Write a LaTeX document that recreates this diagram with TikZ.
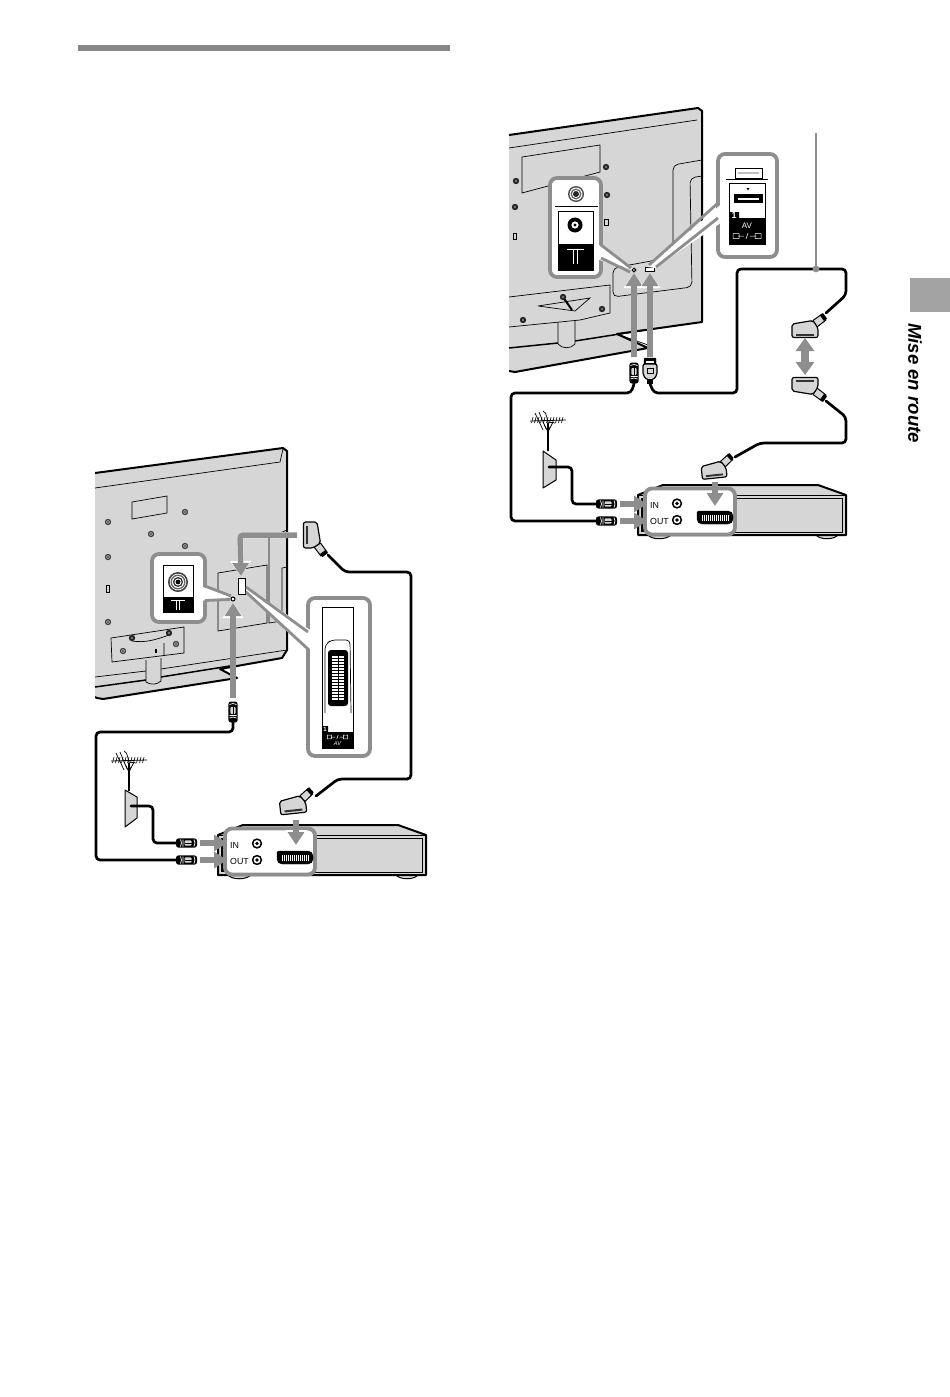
\documentclass[tikz,border=0pt]{standalone}
\usepackage{fontspec}
\setmainfont{Liberation Sans}
\usetikzlibrary{arrows.meta}
\definecolor{tvgrey}{HTML}{D6D6D6}
\definecolor{arrowgrey}{HTML}{8E8E8E}
\definecolor{tabgrey}{HTML}{A3A3A3}
\tikzset{
  x=1pt,y=-1pt,
  tvline/.style={draw=black,line width=.7pt},
  tvedge/.style={draw=black,line width=2pt,line join=round},
  cable/.style={black,line width=2.7pt,rounded corners=4pt,line cap=round},
  callout/.style={draw=arrowgrey,line width=3.8pt,fill=white,rounded corners=7pt},
  wedgeline/.style={arrowgrey,line width=2.8pt},
  garrow/.style={arrowgrey,line width=5.5pt,-{Triangle[length=13pt,width=16pt]},
    preaction={draw=white,line width=6pt,-{Triangle[length=15pt,width=20pt]}}},
  harrow/.style={arrowgrey,line width=5.5pt,-{Triangle[length=13pt,width=16pt]}},
  vlabel/.style={font=\fontsize{8.8}{9}\selectfont,inner sep=0pt,anchor=west,text=black},
}
\newcommand{\screw}[2]{\fill[black!75] (#1,#2) circle (3.2pt);\fill[tvgrey] (#1,#2) circle (1.9pt);\fill[black!70] (#1,#2) circle (1.1pt);}
\newcommand{\dscrew}[2]{\fill[black!85] (#1,#2) circle (3.2pt);\fill[black!45] (#1,#2) circle (1.1pt);}
\newcommand{\coaxplug}[3]{\begin{scope}[shift={(#1,#2)},rotate=#3]
  \fill[black,rounded corners=2.5pt] (-10.5,-4.6) rectangle (10.5,4.6);
  \fill[tvgrey,rounded corners=1pt] (-2,-2.6) rectangle (5,2.6);
  \draw[white,line width=.7pt] (-6,-3.5) -- (-5,0) -- (-6,3.5) (-3.5,-3.5) -- (-3.5,3.5) (7.5,-3.5) -- (8.5,0) -- (7.5,3.5);
  \draw[black,line width=.6pt] (-2,0) -- (5,0);
\end{scope}}
\newcommand{\scartplug}[1]{\begin{scope}[#1]
  \filldraw[fill=tvgrey,draw=black,line width=1pt,line join=round] (8,-9.5) -- (17,-16) -- (21,-10) -- (12,-3) -- cycle;
  \fill[black] (15,-14.5) -- (18,-17) -- (22,-11.5) -- (19,-9) -- cycle;
  \filldraw[fill=tvgrey,draw=black,line width=1.2pt,line join=round,rounded corners=2pt] (-13,-6) -- (8,-9.5) -- (13,-2) -- (13,7.5) -- (-13,7.5) -- cycle;
  \fill[black!80] (-9,3.5) rectangle (9,5.5);
\end{scope}}
\newcommand{\antennaicon}[2]{\begin{scope}[shift={(#1,#2)}]
  \draw[black,line width=.8pt] (-18,1) -- (18,0);
  \foreach \k in {-15,-12,...,17}{\draw[black,line width=.6pt] (\k,-3) -- (\k-1.5,3);}
  \draw[black,line width=.7pt] (-13,-7) -- (-5,10) (-9,-8) -- (-2,9) (-5,-9) .. controls (-1,-8) and (-1,0) .. (1,8) (0,2) -- (7,3) (0,12) -- (-5,2) (0,12) -- (5,2);
  \draw[black,line width=2.4pt] (0,3) -- (0,31);
\end{scope}}
\newcommand{\avicon}[3]{\begin{scope}[shift={(#1,#2)},scale=#3]
  \draw[white,line width=.5pt] (-14,-2.5) rectangle (-8,2.5) (-9,0) -- (-3,0) (-1,3) -- (1,-3) (3,0) -- (9,0) (8,-2.5) rectangle (14,2.5);
\end{scope}}
\newcommand{\vcrbox}[3]{\begin{scope}[shift={(#1,#2)}]
  \filldraw[fill=tvgrey,draw=black,line width=1pt] (10,40) .. controls (14,45) and (28,45) .. (33,40) -- cycle;
  \filldraw[fill=tvgrey,draw=black,line width=1pt] (178,40) .. controls (182,45) and (196,45) .. (200,40) -- cycle;
  \filldraw[fill=tvgrey,tvedge] (0,0) -- (25,-10) -- (180,-10) -- (208,0) -- (208,40) -- (0,40) -- cycle;
  \draw[tvline,line width=.8pt] (0,0) -- (208,0);
  \draw[tvline] (97,3) rectangle (204,37);
  \fill[black] (3,3) rectangle (7,37);
  \draw[callout] (7,-6.5) rectangle (97,39.5);
  \node[vlabel] (#3in) at (12,10) {IN};
  \node[vlabel] (#3out) at (12,26) {OUT};
  \foreach \yy in {8.5,25}{
    \filldraw[draw=black,fill=white,line width=1.5pt] (39,\yy) circle (4.4pt);
    \fill[black] (39,\yy) circle (1.8pt);}
  \filldraw[fill=black,draw=black,rounded corners=2pt] (59,16) -- (92,16) -- (95,19) -- (95,26) -- (92,29) -- (62,29) -- (59,26) -- (59,19) -- cycle;
  \fill[white] (62.5,20) rectangle (92,25.5);
  \foreach \k in {63,65,...,91}{\draw[black,line width=.45pt] (\k,20) -- (\k,25.5);}
\end{scope}}
\begin{document}
\begin{tikzpicture}
\useasboundingbox (0,0) rectangle (950,1397);
\fill[white] (0,0) rectangle (950,1397);
% page furniture
\fill[arrowgrey!95!black] (78,45) rectangle (450,51);
\fill[tabgrey] (910,278) rectangle (950,312);
\node[rotate=-90,font=\fontsize{18.6}{19}\selectfont\bfseries\itshape,inner sep=0pt] (tabtext) at (915,383) {Mise en route};

% ---------- left TV ----------
\filldraw[fill=tvgrey,tvedge] (95,473) -- (283,448) -- (287,451) -- (287,650) -- (282,658) -- (220,669) -- (237,678) -- (103,699) -- (97,698) -- (95,697) ;
\fill[white] (93,470) rectangle (95,701);
\draw[tvline] (95,488) -- (280,462) -- (283,449);
\draw[tvline] (132,502) -- (167,496) -- (167,513) -- (132,519) -- cycle;
\draw[tvline] (218,573) -- (267,565) -- (267,623) -- (218,631) -- cycle;
\draw[tvline] (287,530) -- (269,538) -- (269,623) -- (282,621) -- (282,568) -- (287,567);
\draw[black,line width=1.5pt] (95,687) -- (146,680) (161,677) -- (236,665);
\draw[tvline] (95,677) -- (146,671) (161,669) -- (287,650);
\filldraw[fill=tvgrey,tvline] (146,660) -- (146,682) .. controls (150,685) and (157,685) .. (161,681) -- (161,658);
\filldraw[fill=tvgrey,tvline] (111,638) -- (184,627) -- (184,653) -- (112,662) -- cycle;
\draw[tvline] (132,641) .. controls (145,643) and (155,640) .. (169,635) (164,643) -- (164,655);
\fill[black] (155,649) rectangle (157,653);
\foreach \p/\q in {108/522,185/512,151/534,185/546,108/557,108/622,123/651,176/644}{\screw{\p}{\q}}
\dscrew{132}{638}\dscrew{169}{633}
\draw[tvline] (106.5,585) rectangle (109.5,592);

% left TV callouts and ports
\draw[callout] (152,554) rectangle (205,622);
\fill[white] (200,586) -- (231,597) -- (200,601) -- cycle;
\draw[wedgeline] (205,586) -- (231,596) (205,600.5) -- (230,599.5);
\filldraw[fill=white,draw=black,line width=.8pt] (163,565) rectangle (193,612);
\fill[black] (163,597) rectangle (193,612);
\foreach \r/\c in {10/black!75,8.3/white,7.5/black!60,6/white,5/black!80,3.5/white,2.4/black}{\fill[\c] (178,582) circle (\r pt);}
\draw[white,line width=.9pt] (171,600.5) -- (185,600.5) (176.5,601) -- (176.5,610) (179.5,601) -- (179.5,610);
\filldraw[fill=white,draw=black,line width=.8pt] (238,578) rectangle (245,594);
\filldraw[fill=white,draw=black,line width=1pt] (233,599) circle (2pt);
\coordinate (lhole) at (233,603);
\coordinate (lport) at (241,576);

\draw[callout] (308,598) rectangle (370,756);
\fill[white] (246,587) -- (316,634) -- (316,655) -- (246,592) -- cycle;
\draw[wedgeline] (246,587) -- (308,632) (246,592) -- (309,650);
\filldraw[fill=white,draw=black,line width=.8pt] (322,607) rectangle (353,748);
\fill[black] (322,732) -- (322,726) -- (328,726) -- (328,732) -- (353,732) -- (353,748) -- (322,748) -- cycle;
\node[inner sep=0pt,text=white,font=\fontsize{6}{6}\selectfont\bfseries] (l1) at (325,729.5) {1};
\avicon{337.5}{737}{.72}
\node[inner sep=0pt,text=white,font=\fontsize{5.5}{6}\selectfont\itshape] (lav) at (337.5,744) {AV};
\draw[black,line width=.7pt,rounded corners=4pt] (325,713) -- (325,645) -- (331,640) -- (350,640) -- (351,713) ;
\fill[black,rounded corners=3pt] (328,650) rectangle (348,706);
\fill[white] (332,656) rectangle (344,700);
\foreach \k in {658,661,...,699}{\draw[black,line width=.5pt] (332,\k) -- (344,\k);}
\draw[black,line width=.8pt] (338,656) -- (338,700);

% left VCR
\vcrbox{218}{835}{lv}
\coordinate (lvinpt) at (227,843);
\coordinate (lvoutpt) at (227,860);
\coordinate (lvsock) at (296,845);

% left arrows
\coordinate (lsa) at (297,535);
\coordinate (lsb) at (240,535);
\draw[garrow,rounded corners=3pt] (lsa) -- (lsb) -- (lport);
\draw[garrow] (233,698) -- (lhole);
\draw[garrow] (296,820) -- (lvsock);
\draw[harrow] (200,843) -- (lvinpt);
\draw[harrow] (200,860) -- (lvoutpt);

% left plugs
\coaxplug{233}{712}{90}
\coaxplug{186.5}{843}{0}
\coaxplug{186.5}{860}{0}
\coordinate (lplugv) at (233,723);
\coordinate (lpluginl) at (176,843);
\coordinate (lplugoutl) at (176,860);
\scartplug{shift={(311,535)},rotate=-90}
\scartplug{shift={(293,806)},rotate=6}
\coordinate (lsct) at (328,555);
\coordinate (lscb) at (316,796);

% left antenna
\antennaicon{129}{760}
\filldraw[fill=tvgrey,draw=black,line width=1pt,line join=round] (125,790) -- (137,797) -- (137,818) -- (125,827) -- cycle;
\coordinate (lplate) at (131,806);

% left cables
\draw[cable] (lsct) -- (345,572) -- (411,572) -- (411,779) -- (338,779) -- (lscb);
\draw[cable] (lplugv) -- (233,732) -- (96,732) -- (96,860) -- (lplugoutl);
\draw[cable] (lplate) -- (153,806) -- (153,843) -- (lpluginl);

% ---------- right TV ----------
\filldraw[fill=tvgrey,tvedge] (509,135) -- (698,108) -- (702,111) -- (702,322) -- (617,334) -- (648,348) -- (515,372) -- (509,371);
\fill[white] (507,130) rectangle (509,376);
\draw[tvline] (509,148) -- (697,120);
\draw[tvline] (522,157) -- (600,145) -- (600,172) -- (522,193) -- cycle;
\draw[tvline,rounded corners=5pt] (702,160) -- (673,165) -- (673,257) -- (613,268) -- (613,297) -- (692,287) -- (690,178) -- (702,176);
\draw[black,line width=1.5pt] (509,348) -- (558,343) (575,341) -- (645,330);
\draw[tvline] (617,334) -- (648,345);
\filldraw[fill=tvgrey,tvline] (558,320) -- (558,344) .. controls (562,349) and (571,349) .. (575,344) -- (575,318);
\filldraw[fill=tvgrey,tvline] (509,297) -- (610,285) -- (610,313) -- (580,320) -- (509,327);
\draw[tvline] (538,306) -- (590,298) -- (575,311) -- (538,306);
\draw[black,line width=2pt] (563,297) -- (572,310);
\dscrew{516}{181}\dscrew{606}{167}\dscrew{607}{195}\dscrew{515}{207}\dscrew{523}{320}\dscrew{602}{309}\dscrew{563}{297}
\draw[tvline] (604.5,219) rectangle (608,225) (513.5,233) rectangle (516.5,239);

% right TV callouts and ports
\draw[callout] (550,178) rectangle (601,277);
\fill[white] (596,243) -- (634,270) -- (596,259) -- cycle;
\draw[wedgeline] (601,245) -- (631,268) (601,258) -- (630,272);
\foreach \r/\c in {8/black!70,6.5/white,5.5/black!60,4/white,3/black!85}{\fill[\c] (576,194) circle (\r pt);}
\draw[black,line width=.7pt] (555,206) -- (598,206);
\filldraw[fill=white,draw=black,line width=.8pt] (558,211) rectangle (593,270);
\fill[black] (558,244) rectangle (593,270);
\fill[black] (575,225) circle (7.5pt);\fill[white] (575,225) circle (3.6pt);\fill[black] (575,225) circle (1.7pt);
\draw[white,line width=1pt] (567,249.5) -- (584,249.5) (573.5,250) -- (573.5,264) (577,250) -- (577,264);
\filldraw[fill=white,draw=black,line width=1pt] (634,270) circle (1.8pt);
\filldraw[fill=white,draw=black,line width=.8pt] (645,267) rectangle (654,271);
\coordinate (rhole) at (634,273);
\coordinate (rport) at (650,273);

\draw[callout] (718,154) rectangle (777,257);
\fill[white] (648,267) -- (725,201) -- (725,220) -- (655,268) -- cycle;
\draw[wedgeline] (649,265) -- (718,203) (656,267) -- (718,218);
\filldraw[draw=black,line width=.7pt,fill=white] (735,168) rectangle (762,178);
\fill[black!25] (738,172) rectangle (759,174);
\draw[black,line width=.7pt] (726,179.5) -- (768,179.5);
\filldraw[fill=white,draw=black,line width=.8pt] (729,183) rectangle (765,244);
\fill[black] (729,212) -- (739,212) -- (739,218) -- (765,218) -- (765,244) -- (729,244) -- cycle;
\fill[black] (746.5,188) -- (749.5,188) -- (748,190.5) -- cycle;
\fill[black] (734,194) rectangle (763,203);
\fill[white] (738,197.5) rectangle (759,199.5);
\node[inner sep=0pt,text=white,font=\fontsize{9}{9}\selectfont\bfseries] (r1) at (734,215) {1};
\node[inner sep=0pt,text=white,font=\fontsize{8}{8}\selectfont] (rav) at (747,226) {AV};
\avicon{747}{236}{1}

% right VCR
\vcrbox{638}{495}{rv}
\coordinate (rvinpt) at (647,504);
\coordinate (rvoutpt) at (647,521);
\coordinate (rvsock) at (715,506);

% right arrows
\draw[garrow] (634,357) -- (rhole);
\draw[garrow] (650,357) -- (rport);
\draw[garrow] (715,482) -- (rvsock);
\draw[harrow] (620,504) -- (rvinpt);
\draw[harrow] (620,521) -- (rvoutpt);
\coordinate (rdua) at (805,338);
\coordinate (rdub) at (805,375);
\draw[arrowgrey,line width=7.5pt,{Triangle[length=13pt,width=18pt]}-{Triangle[length=13pt,width=18pt]}] (rdua) -- (rdub);

% right plugs
\coaxplug{634}{373}{90}
\coaxplug{606.5}{504}{0}
\coaxplug{606.5}{521}{0}
\coordinate (rplugv) at (634,384);
\coordinate (rpluginl) at (596,504);
\coordinate (rplugoutl) at (596,521);
% HDMI plug
\begin{scope}[shift={(650,371)}]
  \filldraw[fill=black,draw=black,rounded corners=1pt] (-6,-13) rectangle (6,-6);
  \fill[white] (-4,-10) rectangle (4,-8);
  \filldraw[fill=tvgrey,draw=black,line width=1.2pt,rounded corners=2pt] (-7,-7) -- (7,-7) -- (7,4) -- (3,9) -- (-3,9) -- (-7,4) -- cycle;
  \draw[black,line width=.5pt] (-3,-3) rectangle (3,2);
  \fill[black] (-3,8) rectangle (3,13);
\end{scope}
\coordinate (rhdmi) at (650,384);
\scartplug{shift={(805,330)}}
\scartplug{shift={(805,385)},yscale=-1}
\scartplug{shift={(714,471)},rotate=6,scale=.95}
\coordinate (rsc1) at (826,313);
\coordinate (rsc2) at (826,401);
\coordinate (rsc3) at (735,457);

% right antenna
\antennaicon{548}{420}
\filldraw[fill=tvgrey,draw=black,line width=1pt,line join=round] (543,451) -- (556,460) -- (556,480) -- (543,488) -- cycle;
\coordinate (rplate) at (549,467);

% right cables
\coordinate (rtop) at (816,133);
\coordinate (rdot) at (816,269);
\draw[cable] (rplugv) -- (631,393) -- (511,393) -- (511,521) -- (rplugoutl);
\draw[cable] (rplate) -- (572,467) -- (572,504) -- (rpluginl);
\draw[cable] (rhdmi) -- (654,393) -- (737,393) -- (737,269) -- (846,269) -- (846,295) -- (rsc1);
\draw[cable] (rsc2) -- (846,417) -- (846,443) -- (760,443) -- (rsc3);
\draw[arrowgrey,line width=2.8pt] (rtop) -- (rdot);
\fill[arrowgrey] (rdot) circle (3.4pt);
\end{tikzpicture}
\end{document}
